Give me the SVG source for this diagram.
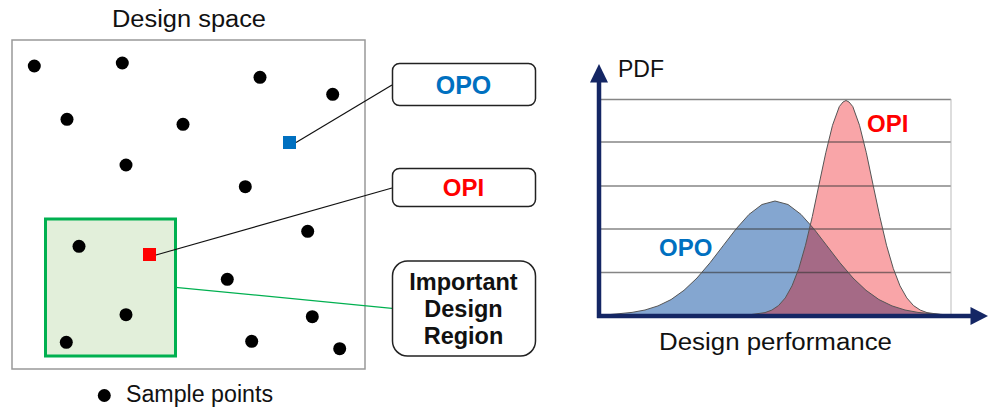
<svg xmlns="http://www.w3.org/2000/svg" width="991" height="411" viewBox="0 0 991 411">
<style>
text{font-family:"Liberation Sans",Arial,sans-serif}
.lbl{font-size:23px;fill:#111}
.b{font-weight:bold}
.dot{fill:#000}
.box{fill:#fff;stroke:#222;stroke-width:1.5}
.grid{stroke:#333;stroke-opacity:0.6;stroke-width:1.3}
.axis{stroke:#142664;stroke-width:4.5}
.curve{fill:none;stroke:#555;stroke-width:1}
</style>
<defs>
<clipPath id="blueClip">
<polygon points="605,315 619,313.7 632,312.4 645,310 658,305.9 671,299.6 684,290.3 697,278 710,262.8 723,245.9 736,229 749,214.4 762,204.5 775,201 788,204.5 801,214.4 814,229 827,245.9 840,262.8 853,278 866,290.3 879,299.6 892,305.9 905,310 918,312.4 931,313.7 950,315"/>
</clipPath>
</defs>

<g id="design-space">
<text class="lbl" x="189" y="27" text-anchor="middle" textLength="154" lengthAdjust="spacingAndGlyphs">Design space</text>
<rect x="12" y="40" width="353" height="329" fill="#fff" stroke="#999" stroke-width="1.5"/>
</g>

<g id="important-region">
<rect x="45.5" y="219" width="130" height="137" fill="#E2EFDA" stroke="#00B050" stroke-width="3"/>
</g>

<g id="sample-points">
<circle class="dot" cx="34.3" cy="66" r="6.5"/>
<circle class="dot" cx="122.3" cy="63" r="6.5"/>
<circle class="dot" cx="260" cy="77.3" r="6.5"/>
<circle class="dot" cx="332.7" cy="94.3" r="6.5"/>
<circle class="dot" cx="67" cy="119.3" r="6.5"/>
<circle class="dot" cx="183" cy="124.3" r="6.5"/>
<circle class="dot" cx="126" cy="165" r="6.5"/>
<circle class="dot" cx="245.3" cy="186.7" r="6.5"/>
<circle class="dot" cx="307.7" cy="231.3" r="6.5"/>
<circle class="dot" cx="79" cy="246.3" r="6.5"/>
<circle class="dot" cx="227.3" cy="279.3" r="6.5"/>
<circle class="dot" cx="126" cy="314.7" r="6.5"/>
<circle class="dot" cx="312.3" cy="316.7" r="6.5"/>
<circle class="dot" cx="66.3" cy="342.3" r="6.5"/>
<circle class="dot" cx="251.7" cy="341.3" r="6.5"/>
<circle class="dot" cx="339.7" cy="348.7" r="6.5"/>
</g>

<g id="opo-point"><rect x="283" y="136" width="13" height="13" fill="#0070C0"/></g>
<g id="opi-point"><rect x="143" y="248" width="13" height="13" fill="#FF0000"/></g>

<g id="connectors">
<line x1="296" y1="142.5" x2="392" y2="85" stroke="#111" stroke-width="1.2"/>
<line x1="156" y1="255" x2="392" y2="188" stroke="#111" stroke-width="1.2"/>
<line x1="175.5" y1="287.3" x2="392" y2="308.3" stroke="#00B050" stroke-width="1.3"/>
</g>

<g id="node-opo">
<rect class="box" x="392.5" y="63.5" width="143" height="42" rx="7"/>
<text class="b" x="463.5" y="94" text-anchor="middle" font-size="25" fill="#0070C0">OPO</text>
</g>
<g id="node-opi">
<rect class="box" x="392.5" y="168.5" width="143" height="38" rx="7"/>
<text class="b" x="463.5" y="196" text-anchor="middle" font-size="24" fill="#FF0000">OPI</text>
</g>
<g id="node-idr">
<rect class="box" x="392.5" y="261" width="143" height="95" rx="15"/>
<text class="b" text-anchor="middle" font-size="23.5" fill="#111"><tspan x="463.5" y="289.5">Important</tspan><tspan x="463.5" y="316.7">Design</tspan><tspan x="463.5" y="343.5">Region</tspan></text>
</g>

<g id="legend">
<circle class="dot" cx="104.3" cy="395.5" r="6.5"/>
<text class="lbl" x="126" y="402" textLength="147" lengthAdjust="spacingAndGlyphs">Sample points</text>
</g>

<g id="chart">
<polygon fill="#84A6D0" points="605,315 619,313.7 632,312.4 645,310 658,305.9 671,299.6 684,290.3 697,278 710,262.8 723,245.9 736,229 749,214.4 762,204.5 775,201 788,204.5 801,214.4 814,229 827,245.9 840,262.8 853,278 866,290.3 879,299.6 892,305.9 905,310 918,312.4 931,313.7 950,315"/>
<polygon fill="#F9A5A8" points="738,315 751.5,314.5 765,312.6 771.8,310.1 778.5,305.6 785.3,297.9 792,285.9 798.8,268.5 805.5,245.2 812.3,216.6 819,184.6 825.8,152.7 832.5,125.3 839.3,106.6 843,102 846,100.5 849,102 852.8,106.6 859.5,125.3 866.3,152.7 873,184.6 879.8,216.6 886.5,245.2 893.3,268.5 900,285.9 906.8,297.9 913.5,305.6 920.3,310.1 927,312.6 940.5,314.5 950,315"/>
<polygon fill="#A56A86" clip-path="url(#blueClip)" points="738,315 751.5,314.5 765,312.6 771.8,310.1 778.5,305.6 785.3,297.9 792,285.9 798.8,268.5 805.5,245.2 812.3,216.6 819,184.6 825.8,152.7 832.5,125.3 839.3,106.6 846,100 852.8,106.6 859.5,125.3 866.3,152.7 873,184.6 879.8,216.6 886.5,245.2 893.3,268.5 900,285.9 906.8,297.9 913.5,305.6 920.3,310.1 927,312.6 940.5,314.5 950,315"/>
<line class="grid" x1="600" y1="99.5" x2="951" y2="99.5"/>
<line class="grid" x1="600" y1="142" x2="951" y2="142"/>
<line class="grid" x1="600" y1="186" x2="951" y2="186"/>
<line class="grid" x1="600" y1="229" x2="951" y2="229"/>
<line class="grid" x1="600" y1="272.5" x2="951" y2="272.5"/>
<line x1="951" y1="99" x2="951" y2="314" stroke="#bbb" stroke-width="1"/>
<polyline class="curve" points="605,315 619,313.7 632,312.4 645,310 658,305.9 671,299.6 684,290.3 697,278 710,262.8 723,245.9 736,229 749,214.4 762,204.5 775,201 788,204.5 801,214.4 814,229 827,245.9 840,262.8 853,278 866,290.3 879,299.6 892,305.9 905,310 918,312.4 931,313.7 950,315"/>
<polyline class="curve" points="738,315 751.5,314.5 765,312.6 771.8,310.1 778.5,305.6 785.3,297.9 792,285.9 798.8,268.5 805.5,245.2 812.3,216.6 819,184.6 825.8,152.7 832.5,125.3 839.3,106.6 843,102 846,100.5 849,102 852.8,106.6 859.5,125.3 866.3,152.7 873,184.6 879.8,216.6 886.5,245.2 893.3,268.5 900,285.9 906.8,297.9 913.5,305.6 920.3,310.1 927,312.6 940.5,314.5 950,315"/>
<line class="axis" x1="599" y1="318" x2="599" y2="80"/>
<polygon fill="#142664" points="599,64 590,82.5 608,82.5"/>
<line class="axis" x1="597" y1="316" x2="973" y2="316"/>
<polygon fill="#142664" points="988,316 970.5,307 970.5,325"/>
<text class="lbl" x="618" y="77">PDF</text>
<text class="lbl" x="659" y="350" textLength="233" lengthAdjust="spacingAndGlyphs">Design performance</text>
<text class="b" x="867" y="132" font-size="24" fill="#FF0000">OPI</text>
<text class="b" x="659" y="256" font-size="24" fill="#0070C0">OPO</text>
</g>
</svg>
